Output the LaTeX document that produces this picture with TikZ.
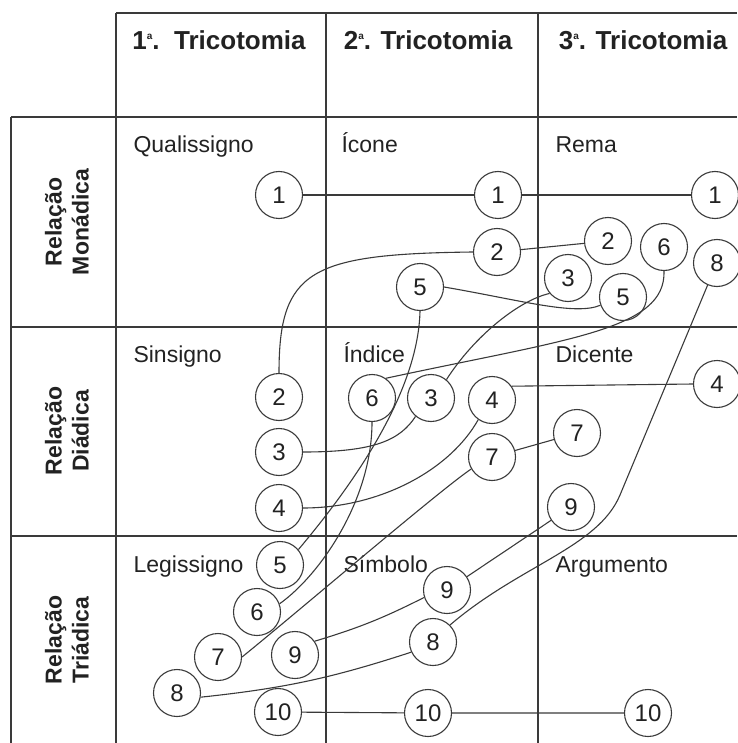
\documentclass[tikz,border=0pt]{standalone}
\usepackage{fontspec}
\setmainfont{Liberation Sans}
\definecolor{ink}{HTML}{222222}
\definecolor{rulegray}{HTML}{3A3A3A}
% small raised ordinal "a"
\newcommand{\ordn}[1]{#1\raisebox{0.8ex}{\fontsize{10}{10}\selectfont a}}
\begin{document}
\begin{tikzpicture}[x=1pt,y=1pt,
  gridline/.style={draw=rulegray, line width=1.3pt},
  link/.style={draw=rulegray, line width=1.1pt},
  num/.style={circle, draw=rulegray, line width=1.1pt, minimum size=47pt,
    inner sep=0pt, text=ink, font=\fontsize{24}{24}\selectfont},
  head/.style={anchor=base, text=ink, font=\fontsize{26}{26}\selectfont\bfseries},
  cell/.style={anchor=base west, text=ink, font=\fontsize{23}{23}\selectfont},
  rowlab/.style={rotate=90, align=center, text=ink,
    font=\fontsize{23}{27}\selectfont\bfseries}]
\useasboundingbox (0,0) rectangle (737,-743);

% table rules
\draw[gridline] (116,-13) -- (737,-13);
\draw[gridline] (11,-117) -- (737,-117);
\draw[gridline] (11,-327) -- (737,-327);
\draw[gridline] (11,-536) -- (737,-536);
\draw[gridline] (11,-117) -- (11,-743);
\draw[gridline] (116,-13) -- (116,-743);
\draw[gridline] (326,-13) -- (326,-743);
\draw[gridline] (538,-13) -- (538,-743);

% column headings
\node[head] (h1) at (219,-50) {\ordn{1}.\ \ Tricotomia};
\node[head] (h2) at (428,-50) {\ordn{2}. Tricotomia};
\node[head] (h3) at (643,-50) {\ordn{3}. Tricotomia};

% row headings
\node[rowlab] (r1) at (67,-222) {Relação\\Monádica};
\node[rowlab] (r2) at (67,-431) {Relação\\Diádica};
\node[rowlab] (r3) at (67,-640) {Relação\\Triádica};

% cell titles
\node[cell] (qual) at (130,-153) {Qualissigno};
\node[cell] (icon) at (338,-153) {Ícone};
\node[cell] (rema) at (552,-153) {Rema};
\node[cell] (sins) at (130,-362) {Sinsigno};
\node[cell] (indi) at (340,-362) {Índice};
\node[cell] (dice) at (552,-362) {Dicente};
\node[cell] (legi) at (130,-572) {Legissigno};
\node[cell] (simb) at (340,-572) {Símbolo};
\node[cell] (argu) at (552,-572) {Argumento};

% numbered classes
\node[num] (Q1) at (279,-195) {1};
\node[num] (I1) at (498,-195) {1};
\node[num] (R1) at (715,-195) {1};
\node[num] (I2) at (497,-252) {2};
\node[num] (R2) at (608,-241) {2};
\node[num] (R6) at (664,-247) {6};
\node[num] (R8) at (717,-263) {8};
\node[num] (R3) at (568,-278) {3};
\node[num] (R5) at (623,-297) {5};
\node[num] (I5) at (420,-287) {5};

\node[num] (S2) at (279,-397) {2};
\node[num] (S3) at (279,-452) {3};
\node[num] (S4) at (279,-508) {4};
\node[num] (N6) at (372,-398) {6};
\node[num] (N3) at (431,-398) {3};
\node[num] (N4) at (492,-400) {4};
\node[num] (N7) at (492,-457) {7};
\node[num] (D7) at (577,-433) {7};
\node[num] (D4) at (717,-384) {4};
\node[num] (D9) at (571,-507) {9};

\node[num] (L5) at (280,-565) {5};
\node[num] (L6) at (257,-612) {6};
\node[num] (L7) at (218,-657) {7};
\node[num] (L8) at (177,-693) {8};
\node[num] (L9) at (295,-655) {9};
\node[num] (L10) at (278,-712) {10};
\node[num] (Y9) at (447,-590) {9};
\node[num] (Y8) at (433,-642) {8};
\node[num] (Y10) at (428,-713) {10};
\node[num] (A10) at (648,-713) {10};

% connections between the classes
\coordinate (k8) at (620,-495);
\draw[link] (Q1) -- (I1) -- (R1);
\draw[link] (S2.north) .. controls (279,-270) and (310,-254) .. (I2.west);
\draw[link] (I2) -- (R2);
\draw[link] (S3.east) .. controls (375,-452) and (400,-440) .. (N3.-130);
\draw[link] (N3.50) .. controls (475,-335) and (520,-300) .. (R3.-140);
\draw[link] (S4.east) .. controls (380,-508) and (450,-470) .. (N4.-125);
\draw[link] (N4.35) -- (D4.west);
\draw[link] (L5.40) .. controls (340,-500) and (418,-400) .. (I5.south);
\draw[link] (I5.east) .. controls (520,-300) and (575,-316) .. (R5.-160);
\draw[link] (L6.20) .. controls (320,-575) and (372,-500) .. (N6.south);
\draw[link] (N6.55) .. controls (568,-339) and (666,-330) .. (R6.south);
\draw[link] (L7.east) .. controls (300,-610) and (440,-490) .. (N7.-150);
\draw[link] (N7) -- (D7);
\draw[link] (L8.-10) to[bend right=6] (Y8.-155);
\draw[link] (Y8.45) .. controls (520,-565) and (598,-547.6) .. (k8) -- (R8.-113);
\draw[link] (L9.35) to[bend right=5] (Y9.-162);
\draw[link] (Y9) -- (D9);
\draw[link] (L10) -- (Y10) -- (A10);
\end{tikzpicture}
\end{document}
